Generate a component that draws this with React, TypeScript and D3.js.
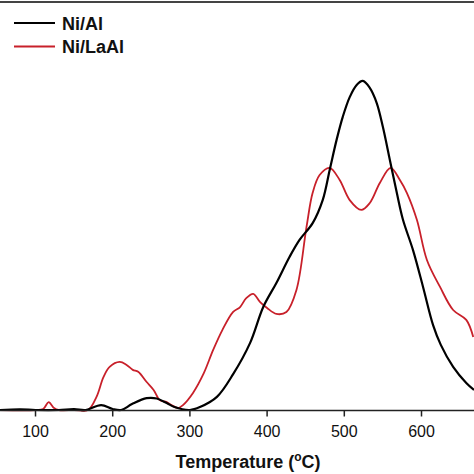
import React from "react";
import * as d3 from "d3";

const tempTicks = [100, 200, 300, 400, 500, 600];

const niAlT = [54, 80, 100, 130, 150, 165, 185, 200, 211, 225, 244, 257, 270, 280, 300, 313, 335, 356, 378, 395, 412, 429, 442, 459, 472, 481, 490, 498, 507, 516, 524, 533, 542, 550, 559, 568, 576, 589, 602, 615, 625, 641, 658, 668];
const niAlI = [0, 0.2, 0, 0, 0.3, 0, 1.5, 0.3, 0, 1.8, 3.6, 3.5, 2.1, 0.9, 0, 0.9, 4.0, 10.9, 20.4, 31.3, 38.6, 46.5, 51.7, 56.8, 63.8, 72.9, 82.1, 89.1, 95.1, 98.8, 100, 97.9, 93.3, 86.0, 76.0, 66.0, 57.8, 48.6, 37.4, 25.8, 19.8, 13.1, 8.2, 6.1];

const niLaAlT = [54, 100, 110, 117, 124, 130, 150, 168, 179, 188, 196, 209, 218, 226, 233, 244, 253, 261, 270, 276, 285, 291, 304, 318, 330, 342, 356, 365, 373, 382, 391, 400, 412, 425, 438, 451, 459, 468, 481, 494, 507, 522, 533, 546, 560, 572, 581, 594, 607, 624, 641, 658, 667];
const niLaAlI = [0, 0, 0.3, 2.4, 0.6, 0, 0, 0, 4.0, 10.0, 13.1, 14.6, 13.7, 12.2, 11.6, 8.5, 6.1, 3.0, 2.4, 1.5, 0.6, 1.5, 5.2, 11.2, 18.2, 24.3, 29.8, 31.3, 34.0, 35.3, 32.8, 31.0, 29.2, 29.8, 36.5, 55.6, 66.0, 71.4, 73.6, 69.9, 63.8, 60.8, 62.9, 69.0, 73.6, 69.9, 66.0, 57.8, 45.6, 37.4, 30.4, 27.4, 22.2];

const seriesNames = ["Ni/Al", "Ni/LaAl"];
const seriesColors = ["#000000", "#c8202a"];

export default function App() {
  const W = 474, H = 474;
  const x = d3.scaleLinear().domain([54, 668]).range([0, 474]);
  const y = d3.scaleLinear().domain([0, 124]).range([410, 2]);
  const line = d3.line<[number, number]>().x(d => x(d[0])).y(d => y(d[1])).curve(d3.curveCatmullRom.alpha(0.5));
  const s1 = niAlT.map((t, i) => [t, niAlI[i]] as [number, number]);
  const s2 = niLaAlT.map((t, i) => [t, niLaAlI[i]] as [number, number]);
  const axisY = 410.5;
  return (
    <svg width={W} height={H} style={{ position: "absolute", left: 0, top: 0, background: "#fff" }} fontFamily="Liberation Sans, Arial, sans-serif">
      <rect x={0} y={0} width={W} height={H} fill="#fff" />
      <line x1={0} x2={W} y1={2} y2={2} stroke="#444" strokeWidth={2} />
      <path d={line(s2) || ""} fill="none" stroke={seriesColors[1]} strokeWidth={1.8} />
      <path d={line(s1) || ""} fill="none" stroke={seriesColors[0]} strokeWidth={2.2} />
      <line x1={0} x2={W} y1={axisY} y2={axisY} stroke="#222" strokeWidth={1.6} />
      {tempTicks.map(t => (
        <g key={t}>
          <line x1={x(t)} x2={x(t)} y1={axisY} y2={axisY + 6} stroke="#222" strokeWidth={1.5} />
          <text x={x(t)} y={437} textAnchor="middle" fontSize={16} fill="#111">{t}</text>
        </g>
      ))}
      <text x={248} y={468} textAnchor="middle" fontSize={18} fontWeight="bold" fill="#111">
        Temperature (<tspan fontSize={12} dy={-7}>o</tspan><tspan dy={7}>C)</tspan>
      </text>
      {seriesNames.map((n, i) => (
        <g key={n}>
          <line x1={14} x2={55} y1={23 + i * 23.5} y2={23 + i * 23.5} stroke={seriesColors[i]} strokeWidth={1.8} />
          <text x={62} y={30 + i * 22.5} fontSize={18} fontWeight="bold" fill="#111">{n}</text>
        </g>
      ))}
    </svg>
  );
}
